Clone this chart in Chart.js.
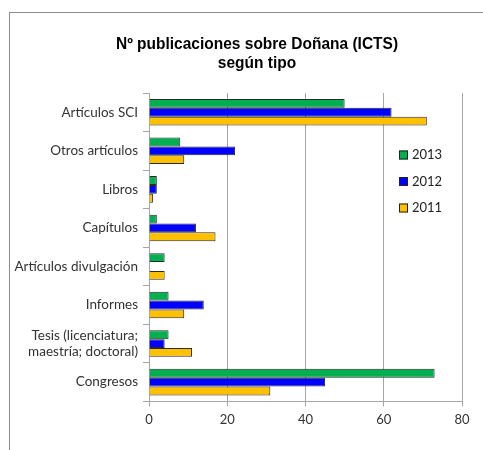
<!DOCTYPE html>
<html><head><meta charset="utf-8">
<script src="https://cdn.jsdelivr.net/npm/chart.js@4.4.0/dist/chart.umd.min.js"></script>
<style>
html,body{margin:0;padding:0;background:#fff;}
#wrap{position:relative;width:483px;height:450px;overflow:hidden;}
#frame{position:absolute;left:9px;top:12px;width:500px;height:500px;border:1px solid #8c8c8c;box-sizing:border-box;}
canvas{position:absolute;left:0;top:0;}
</style></head>
<body><div id="wrap"><div id="frame"></div><canvas id="c" width="483" height="450"></canvas></div>
<script>
const titleLines = ["Nº publicaciones sobre Doñana (ICTS)", "según tipo"];
const categories = ["Artículos SCI","Otros artículos","Libros","Capítulos","Artículos divulgación","Informes",["Tesis (licenciatura;","maestría; doctoral)"],"Congresos"];
const seriesNames = ["2013","2012","2011"];
const values2013 = [50, 8, 2, 2, 4, 5, 5, 73];
const values2012 = [62, 22, 2, 12, 0, 14, 4, 45];
const values2011 = [71, 9, 1, 17, 4, 9, 11, 31];
const xTicks = [0, 20, 40, 60, 80];
const colors = ["#00B050", "#0000FF", "#FFC000"];

const titlePlugin = {
  id: 'customTitle',
  afterDraw(chart) {
    const ctx = chart.ctx;
    ctx.save();
    ctx.font = 'bold 15.5px Arial, "Liberation Sans", sans-serif';
    ctx.fillStyle = '#000';
    ctx.textAlign = 'center';
    ctx.textBaseline = 'alphabetic';
    ctx.scale(1, 1.08);
    titleLines.forEach((t, i) => ctx.fillText(t, 257, (49 + i * 18.5) / 1.08));
    ctx.restore();
  }
};

const legendPlugin = {
  id: 'inLegend',
  afterDraw(chart) {
    const ctx = chart.ctx, a = chart.chartArea;
    ctx.save();
    ctx.font = '13px Lato, "Liberation Sans", sans-serif';
    ctx.textBaseline = 'middle';
    chart.data.datasets.forEach((ds, i) => {
      const x = a.left + 250, y = a.top + 62 + i * 26.5;
      ctx.fillStyle = ds.backgroundColor;
      ctx.fillRect(x, y - 4.5, 9, 9);
      ctx.strokeStyle = '#222'; ctx.lineWidth = 1;
      ctx.strokeRect(x + 0.5, y - 4, 8, 8);
      ctx.fillStyle = '#222';
      ctx.fillText(ds.label, x + 13, y);
    });
    ctx.restore();
  }
};

new Chart(document.getElementById('c'), {
  type: 'bar',
  data: {
    labels: categories,
    datasets: [
      {label: seriesNames[0], data: values2013, backgroundColor: colors[0]},
      {label: seriesNames[1], data: values2012, backgroundColor: colors[1]},
      {label: seriesNames[2], data: values2011, backgroundColor: colors[2]}
    ].map(d => Object.assign(d, {borderColor: '#2a2a2a', borderWidth: 1, categoryPercentage: 0.69, barPercentage: 1.0}))
  },
  options: {
    indexAxis: 'y',
    responsive: false,
    animation: false,
    layout: {padding: {left: 0, right: 21, top: 93, bottom: 16}},
    plugins: {
      legend: {display: false},
      tooltip: {enabled: false},
      title: {display: false}
    },
    scales: {
      x: {
        min: 0, max: 80,
        afterBuildTicks: s => { s.ticks = xTicks.map(v => ({value: v})); },
        grid: {color: '#a6a6a6', lineWidth: 1, tickLength: 5, drawTicks: true},
        border: {color: '#a6a6a6'},
        ticks: {color: '#333', font: {family: 'Lato, "Liberation Sans", sans-serif', size: 13}, padding: 6}
      },
      y: {
        afterFit: s => { s.width = 149; },
        grid: {offset: true, drawOnChartArea: false, drawTicks: true, tickLength: 6, color: '#a6a6a6'},
        border: {color: '#a6a6a6'},
        ticks: {color: '#333', font: {family: 'Lato, "Liberation Sans", sans-serif', size: 13.5, lineHeight: 1.2}, padding: 5, autoSkip: false}
      }
    }
  },
  plugins: [legendPlugin, titlePlugin]
});
</script></body></html>
